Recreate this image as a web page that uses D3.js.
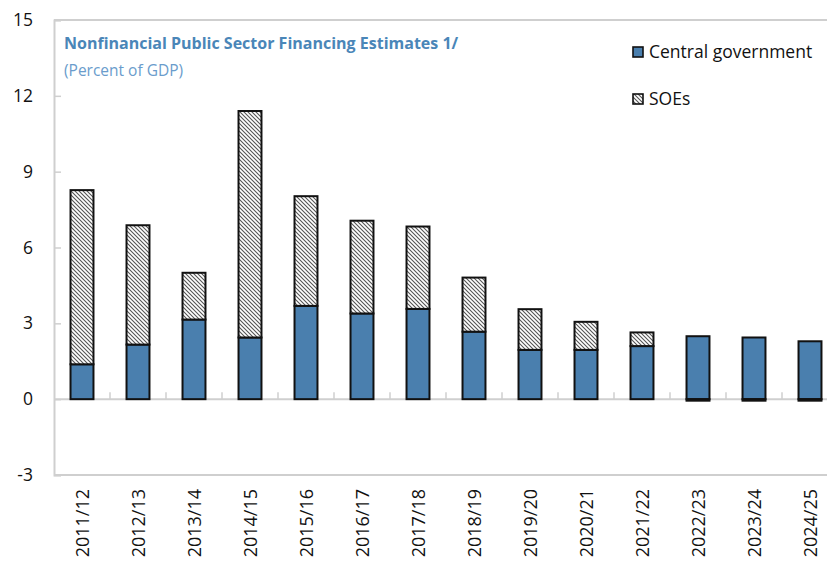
<!DOCTYPE html>
<html><head><meta charset="utf-8">
<script src="https://cdn.jsdelivr.net/npm/d3@7"></script>
<style>body{margin:0;background:#fff}svg{display:block}text{font-family:"Open Sans","Noto Sans",sans-serif}</style>
</head><body><svg id="c" width="827" height="571"></svg>
<script>
const categories = ["2011/12","2012/13","2013/14","2014/15","2015/16","2016/17","2017/18","2018/19","2019/20","2020/21","2021/22","2022/23","2023/24","2024/25"];
const centralGov = [1.38,2.16,3.15,2.44,3.69,3.39,3.57,2.67,1.95,1.95,2.10,2.49,2.44,2.29];
const soes = [6.89,4.72,1.85,8.96,4.34,3.67,3.26,2.14,1.61,1.11,0.54,-0.06,-0.06,-0.06];
const yTicks = [-3,0,3,6,9,12,15];
const title = "Nonfinancial Public Sector Financing Estimates 1/";
const subtitle = "(Percent of GDP)";
const legendLabels = ["Central government","SOEs"];

const svg = d3.select("#c");
const defs = svg.append("defs");
const pat = defs.append("pattern").attr("id","hatch").attr("patternUnits","userSpaceOnUse")
  .attr("width",4).attr("height",4);
pat.append("rect").attr("width",4).attr("height",4).attr("fill","#fff");
pat.append("path").attr("d","M-1,-1 L5,5 M-1,3 L1,5 M3,-1 L5,1").attr("stroke","#555").attr("stroke-width",1.1);

const x = d3.scaleBand().domain(categories).range([54,838]).paddingInner(0.59).paddingOuter(0.295);
const y = d3.scaleLinear().domain([-3,15]).range([475,20]);
const grey = "#cfcfcf";

// frame
svg.append("line").attr("x1",54).attr("x2",827).attr("y1",20).attr("y2",20).attr("stroke",grey).attr("stroke-width",2);
svg.append("line").attr("x1",54).attr("x2",827).attr("y1",475).attr("y2",475).attr("stroke",grey).attr("stroke-width",2);

// y axis
const ya = svg.append("g").attr("transform","translate(54,0)")
  .call(d3.axisRight(y).tickValues(yTicks).tickSize(7).tickFormat(""));
ya.select(".domain").attr("stroke",grey).attr("stroke-width",2);
ya.selectAll(".tick line").attr("stroke",grey).attr("stroke-width",1.5);
svg.append("g").selectAll("text").data(yTicks).join("text")
  .attr("x",33).attr("y",d=>y(d)+6).attr("text-anchor","end")
  .attr("font-size",17.5).attr("fill","#111").text(d=>d);

// zero line with ticks between categories
svg.append("line").attr("x1",54).attr("x2",827).attr("y1",y(0)).attr("y2",y(0)).attr("stroke",grey).attr("stroke-width",2);
const boundary = d => x(d) - x.step()*0.295;
svg.append("g").selectAll("line").data(categories.slice(1)).join("line")
  .attr("x1",boundary).attr("x2",boundary)
  .attr("y1",y(0)).attr("y2",y(0)-7).attr("stroke",grey).attr("stroke-width",1.5);

// bars
const bw = x.bandwidth();
const g = svg.append("g");
categories.forEach((c,i)=>{
  const cg = centralGov[i], s = soes[i];
  g.append("rect").attr("x",x(c)).attr("width",bw)
    .attr("y",y(cg)).attr("height",y(0)-y(cg))
    .attr("fill","#4a7fae").attr("stroke","#111").attr("stroke-width",2);
  const y0 = s>0 ? y(cg+s) : y(0);
  const h = s>0 ? y(cg)-y(cg+s) : y(s)-y(0);
  g.append("rect").attr("x",x(c)).attr("width",bw).attr("y",y0).attr("height",h)
    .attr("fill","url(#hatch)").attr("stroke","#111").attr("stroke-width",2);
});

// x labels
svg.append("g").selectAll("text").data(categories).join("text")
  .attr("transform",d=>`translate(${x(d)+bw/2+6.5},489) rotate(-90)`)
  .attr("text-anchor","end").attr("font-size",18).attr("fill","#111").text(d=>d);

// title
svg.append("text").attr("x",64).attr("y",49).attr("font-size",16).attr("font-weight","bold")
  .attr("fill","#4a86b8").text(title);
svg.append("text").attr("x",64).attr("y",76).attr("font-size",15.5)
  .attr("fill","#6a9ccc").text(subtitle);

// legend
const lg = svg.append("g");
[["#4a7fae",legendLabels[0],52],["url(#hatch)",legendLabels[1],99]].forEach(([f,t,yy])=>{
  lg.append("rect").attr("x",633).attr("y",yy-5).attr("width",10).attr("height",10)
    .attr("fill",f).attr("stroke","#111").attr("stroke-width",1.6);
  lg.append("text").attr("x",649).attr("y",yy+6).attr("font-size",17.5).attr("fill","#111").text(t);
});
</script></body></html>
